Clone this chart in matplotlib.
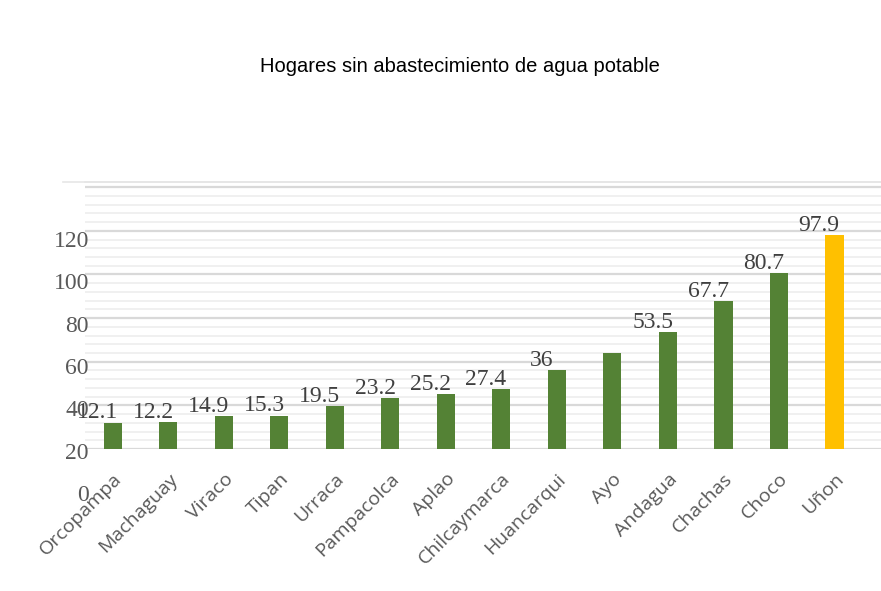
import matplotlib
matplotlib.use('Agg')
import matplotlib.pyplot as plt
from matplotlib.ticker import MultipleLocator

# data
distritos = ['Orcopampa', 'Machaguay', 'Viraco', 'Tipan', 'Urraca', 'Pampacolca', 'Aplao',
             'Chilcaymarca', 'Huancarqui', 'Ayo', 'Andagua', 'Chachas', 'Choco', 'Uñon']
hogares = [12.1, 12.2, 14.9, 15.3, 19.5, 23.2, 25.2, 27.4, 36, 44.0, 53.5, 67.7, 80.7, 97.9]
etiquetas = ['12.1', '12.2', '14.9', '15.3', '19.5', '23.2', '25.2', '27.4', '36', '',
             '53.5', '67.7', '80.7', '97.9']
escala = [0, 20, 40, 60, 80, 100, 120]

verde = '#548235'
amarillo = '#FFC000'
colores = [verde] * (len(distritos) - 1) + [amarillo]

W, H = 881, 591
fig = plt.figure(figsize=(W / 100, H / 100), dpi=100)
fig.patch.set_facecolor('white')

# plot area (bars)
ax = fig.add_axes([85 / W, (H - 449) / H, (W - 85) / W, (449 - 182) / H])
x = range(len(distritos))
ax.bar(x, hogares, width=0.33, color=colores, zorder=3)
ax.set_xlim(-0.5, 13.84)
ax.set_ylim(0, 122.4)

ax.yaxis.set_major_locator(MultipleLocator(20))
ax.yaxis.set_minor_locator(MultipleLocator(4))
ax.grid(axis='y', which='major', color='#d9d9d9', linewidth=1.6, zorder=0)
ax.grid(axis='y', which='minor', color='#ededed', linewidth=1.2, zorder=0)
ax.tick_params(axis='y', which='both', left=False, labelleft=False)
for s in ['left', 'right', 'bottom']:
    ax.spines[s].set_visible(False)
ax.spines['top'].set_color('#e6e6e6')
ax.spines['top'].set_linewidth(1.2)
ax.axhline(122.4, xmin=-0.028, xmax=1, color='#e6e6e6', linewidth=1.2, clip_on=False)

ax.set_xticks(list(x))
ax.set_xticklabels(distritos, rotation=45, ha='right', rotation_mode='anchor',
                   fontsize=14, color='#595959', family='Open Sans')
ax.tick_params(axis='x', length=0, pad=15)

for i, (v, t) in enumerate(zip(hogares, etiquetas)):
    if t:
        ax.annotate(t, (i, v), xytext=(-11, 7), textcoords='offset points',
                    ha='center', va='center', fontsize=17, color='#404040',
                    family='Liberation Serif')

# y scale labels (shifted, as in the original image)
ay = fig.add_axes([93 / W, (H - 493) / H, 0.001, (493 - 239) / H])
ay.set_ylim(0, 120)
ay.set_yticks(escala)
ay.set_yticklabels([str(v) for v in escala], fontsize=17, color='#595959',
                   family='Liberation Serif')
ay.tick_params(axis='y', length=0, pad=3)
ay.set_xticks([])
ay.patch.set_alpha(0)
for s in ay.spines.values():
    s.set_visible(False)

fig.text(460 / W, 1 - 67 / H, 'Hogares sin abastecimiento de agua potable',
         ha='center', va='center', fontsize=14.5, family='Liberation Sans', color='black')

fig.savefig('out.png', dpi=100, facecolor='white')
